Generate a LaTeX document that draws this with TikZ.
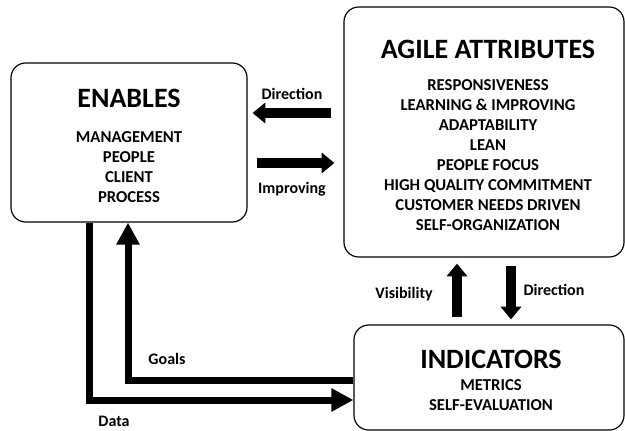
\documentclass[tikz,border=0pt]{standalone}
\usepackage{fontspec}
\setmainfont{Carlito}
\usepackage{tikz}
\usetikzlibrary{arrows.meta}

\begin{document}
\begin{tikzpicture}[x=0.75pt,y=0.75pt]
    \tikzstyle{every node}+=[inner sep=0pt]
    \tikzstyle{box}=[draw=black, line width=0.9pt, rounded corners=11pt]
    \tikzstyle{head}=[font=\fontsize{21}{25}\selectfont\bfseries]
    \tikzstyle{item}=[align=center, font=\fontsize{12.5}{15}\selectfont\bfseries]
    \tikzstyle{tag}=[anchor=base, font=\fontsize{12}{14}\selectfont\bfseries]
    \tikzstyle{fat}=[line width=7.5pt, -{Triangle[width=15pt,length=9.5pt]}]
    \tikzstyle{flow}=[line width=5.25pt, -{Triangle[width=16.5pt,length=16.5pt]}]
    \useasboundingbox (0,0) rectangle (625,-431);
    % the three blocks
    \node [box, minimum width=177pt, minimum height=119.25pt] (enables) at (129,-142.5) {};
    \node [head] (enablesT) at (129,-98) {ENABLES};
    \node [item] (enablesL) at (129,-166.7) {MANAGEMENT\\PEOPLE\\CLIENT\\PROCESS};
    \node [box, minimum width=210pt, minimum height=187.5pt] (agile) at (484,-132) {};
    \node [head] (agileT) at (488,-49) {AGILE ATTRIBUTES};
    \node [item] (agileL) at (488,-155) {RESPONSIVENESS\\LEARNING \& IMPROVING\\ADAPTABILITY\\LEAN\\PEOPLE FOCUS\\HIGH QUALITY COMMITMENT\\CUSTOMER NEEDS DRIVEN\\SELF-ORGANIZATION};
    \node [box, minimum width=202.5pt, minimum height=78.75pt] (ind) at (489,-377.5) {};
    \node [head] (indT) at (491,-359.7) {INDICATORS};
    \node [item] (indL) at (491,-395.5) {METRICS\\SELF-EVALUATION};
    % levels of the connectors
    \coordinate (dirY) at (0,-113);
    \coordinate (impY) at (0,-163);
    \coordinate (visX) at (457,0);
    \coordinate (dirX) at (511,0);
    \coordinate (goals) at (128,-380);
    \coordinate (data) at (89,-400);
    % enables <-> agile attributes
    \draw [fat, shorten <=9pt, shorten >=3.75pt] (agile.west |- dirY) -- (enables.east |- dirY);
    \draw [fat, shorten <=6.75pt, shorten >=6.75pt] (enables.east |- impY) -- (agile.west |- impY);
    \node [tag] (dirTag) at (292,-99.5) {Direction};
    \node [tag] (impTag) at (292,-193.5) {Improving};
    % agile attributes <-> indicators
    \draw [fat, shorten <=5.25pt, shorten >=4.5pt] (visX |- ind.north) -- (visX |- agile.south);
    \draw [fat, shorten <=6pt, shorten >=3.75pt] (dirX |- agile.south) -- (dirX |- ind.north);
    \node [tag] (visTag) at (404,-298) {Visibility};
    \node [tag] (dir2Tag) at (554,-295.6) {Direction};
    % indicators <-> enables
    \draw [flow] (goals -| ind.west) -- (goals) -- (goals |- enables.south);
    \draw [flow] (data |- enables.south) -- (data) -- (data -| ind.west);
    \node [tag] (goalsTag) at (167,-364) {Goals};
    \node [tag] (dataTag) at (114,-426) {Data};
\end{tikzpicture}
\end{document}
